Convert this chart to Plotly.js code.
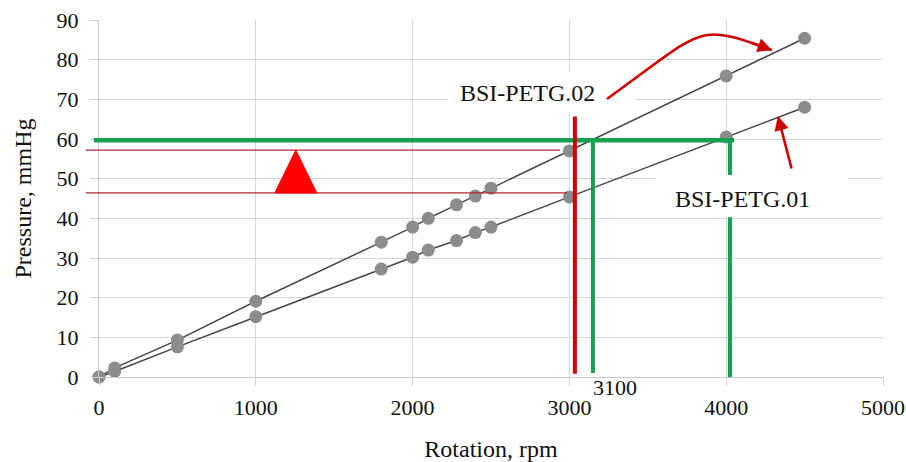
<!DOCTYPE html>
<html>
<head>
<meta charset="utf-8">
<script src="https://cdn.plot.ly/plotly-3.0.1.min.js"></script>
<style>html,body{margin:0;padding:0;background:#fff;}#chart{width:906px;height:462px;}</style>
</head>
<body>
<div id="chart"></div>
<script>
// Data
const rpm = [0, 100, 500, 1000, 1800, 2000, 2100, 2280, 2400, 2500, 3000, 4000, 4500];
const petg02 = [0, 2.3, 9.3, 19.1, 34.0, 37.8, 40.0, 43.4, 45.6, 47.6, 57.0, 75.9, 85.4];
const petg01 = [0, 1.4, 7.6, 15.2, 27.2, 30.2, 32.0, 34.4, 36.4, 37.8, 45.4, 60.5, 68.0];
const seriesNames = ['BSI-PETG.02', 'BSI-PETG.01'];
const xTicks = [0, 1000, 2000, 3000, 4000, 5000];
const yTicks = [0, 10, 20, 30, 40, 50, 60, 70, 80, 90];

// Reference levels marked on the chart
const levelGreen = 59.7;
const levelRedHigh = 57.2;
const levelRedLow = 46.4;
const rpmRed = 3035;
const rpmGreenA = 3150;
const rpmGreenB = 4024;
const markLabel = '3100';

const X_MAX = 5000;
const px = v => v / X_MAX; // rpm -> paper fraction (x range starts at 0)

const FONT = '"Liberation Serif", "Times New Roman", serif';
const lineCol = '#4a4444';
const markCol = '#8c8c8c';
const red = '#d00000';
const green = '#14a050';

const traces = [petg02, petg01].map((ys, i) => ({
  x: rpm, y: ys, name: seriesNames[i], type: 'scatter', mode: 'lines+markers',
  line: {color: lineCol, width: 1.5},
  marker: {color: markCol, size: 13},
  cliponaxis: false, showlegend: false, hoverinfo: 'skip'
}));

const shapes = [
  // thin red reference lines
  {type: 'line', xref: 'paper', yref: 'y', x0: -0.017, x1: px(2940), y0: levelRedHigh, y1: levelRedHigh,
   line: {color: '#b02828', width: 1.2}, layer: 'above'},
  {type: 'line', xref: 'paper', yref: 'y', x0: -0.017, x1: px(2985), y0: levelRedLow, y1: levelRedLow,
   line: {color: '#b02828', width: 1.2}, layer: 'above'},
  // red triangle
  {type: 'path', xref: 'x', yref: 'y',
   path: `M 1121,${levelRedLow} L 1389,${levelRedLow} L 1255,${levelRedHigh} Z`,
   fillcolor: '#ff0000', line: {color: '#ff0000', width: 1}, layer: 'above'},
  // green lines
  {type: 'line', xref: 'paper', yref: 'y', x0: -0.0065, x1: px(4050), y0: levelGreen, y1: levelGreen,
   line: {color: green, width: 4.5}, layer: 'above'},
  {type: 'line', xref: 'paper', yref: 'y', x0: px(rpmGreenA), x1: px(rpmGreenA), y0: levelGreen, y1: 1.0,
   line: {color: green, width: 4}, layer: 'above'},
  {type: 'line', xref: 'paper', yref: 'y', x0: px(rpmGreenB), x1: px(rpmGreenB), y0: levelGreen, y1: -1.3,
   line: {color: green, width: 4}, layer: 'above'},
  // red vertical
  {type: 'line', xref: 'paper', yref: 'y', x0: px(rpmRed), x1: px(rpmRed), y0: 65.7, y1: 0.8,
   line: {color: red, width: 4}, layer: 'above'},
  // white label boxes
  {type: 'rect', xref: 'x', yref: 'y', x0: 2219, x1: 3418, y0: 66.8, y1: 76.9,
   fillcolor: '#ffffff', line: {width: 0}, layer: 'above'},
  {type: 'rect', xref: 'x', yref: 'y', x0: 3546, x1: 4777, y0: 40.3, y1: 50.9,
   fillcolor: '#ffffff', line: {width: 0}, layer: 'above'},
  // curved red arrow
  {type: 'path', xref: 'x', yref: 'y',
   path: 'M 3240,70.1 C 3871,88 3801,89.5 4292,82.4',
   line: {color: red, width: 2.6}, layer: 'above'}
];

const annotations = [
  {xref: 'x', yref: 'y', x: 2290, y: 71.7, xanchor: 'left', yanchor: 'middle', showarrow: false,
   text: seriesNames[0], font: {family: FONT, size: 24, color: '#111'}},
  {xref: 'x', yref: 'y', x: 3661, y: 44.9, xanchor: 'left', yanchor: 'middle', showarrow: false,
   text: seriesNames[1], font: {family: FONT, size: 24, color: '#111'}},
  {xref: 'x', yref: 'y', x: rpmGreenA, y: 0, xanchor: 'left', yanchor: 'top', showarrow: false,
   text: markLabel, font: {family: FONT, size: 22, color: '#111'}, xshift: -2, yshift: 4},
  // arrowheads
  {xref: 'x', yref: 'y', x: 4292, y: 82.4, ax: -22, ay: -8, text: '', showarrow: true,
   arrowhead: 2, arrowsize: 1.1, arrowwidth: 2.6, arrowcolor: red, standoff: 0},
  {xref: 'x', yref: 'y', x: 4330, y: 65.8, ax: 14, ay: 54, text: '', showarrow: true,
   arrowhead: 2, arrowsize: 1.1, arrowwidth: 2.6, arrowcolor: red, standoff: 0}
];

const axisCommon = {
  showgrid: true, gridcolor: '#d6d6d6', gridwidth: 1,
  showline: true, linecolor: '#c8c8c8', linewidth: 1,
  zeroline: false, ticks: 'outside', ticklen: 8, tickcolor: '#d0d0d0',
  tickfont: {family: FONT, size: 22, color: '#111'}
};

const layout = {
  width: 906, height: 462,
  margin: {l: 99, r: 23, t: 20, b: 85},
  paper_bgcolor: '#ffffff', plot_bgcolor: '#ffffff',
  xaxis: Object.assign({}, axisCommon, {
    range: [0, X_MAX], tickmode: 'array', tickvals: xTicks, ticktext: xTicks.map(String),
    ticklabelstandoff: 3,
    title: {text: 'Rotation, rpm', font: {family: FONT, size: 24, color: '#111'}, standoff: 20}
  }),
  yaxis: Object.assign({}, axisCommon, {
    range: [0, 90], tickmode: 'array', tickvals: yTicks, ticktext: yTicks.map(String),
    ticklabelstandoff: 7,
    title: {text: 'Pressure, mmHg', font: {family: FONT, size: 24, color: '#111'}, standoff: 18}
  }),
  shapes: shapes,
  annotations: annotations
};

Plotly.newPlot('chart', traces, layout, {staticPlot: true, displayModeBar: false});
</script>
</body>
</html>
